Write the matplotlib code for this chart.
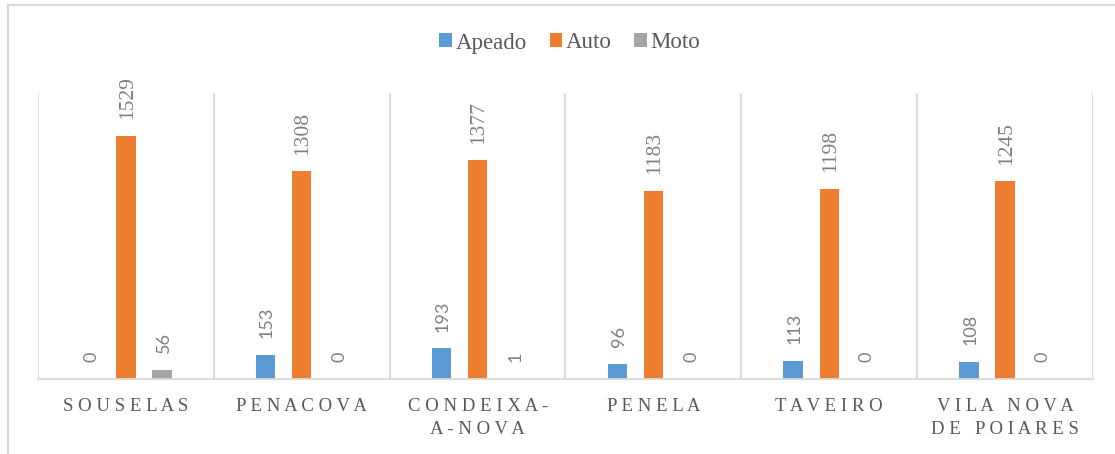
import matplotlib.pyplot as plt
import numpy as np
from matplotlib.patches import Patch
from matplotlib.lines import Line2D

categories = ["SOUSELAS", "PENACOVA", "CONDEIXA-\nA-NOVA", "PENELA", "TAVEIRO", "VILA NOVA\nDE POIARES"]
apeado = [0, 153, 193, 96, 113, 108]
auto = [1529, 1308, 1377, 1183, 1198, 1245]
moto = [56, 0, 1, 0, 0, 0]

series = [
    ("Apeado", apeado, "#5B9BD5", -0.206, "Lato", 13),
    ("Auto", auto, "#ED7D31", 0.0, "Liberation Serif", 15.5),
    ("Moto", moto, "#A5A5A5", 0.206, "Lato", 13),
]

GRID = "#D9D9D9"
TEXT = "#595959"
LABEL = "#808080"


def spaced(label: str) -> str:
    # fake the letter spacing of the original axis labels
    lines = []
    for line in label.split("\n"):
        words = [" ".join(word) for word in line.split(" ")]
        lines.append("   ".join(words))
    return "\n".join(lines)


fig = plt.figure(figsize=(11.15, 4.54), dpi=100)
ax = fig.add_axes([38 / 1115, 75 / 454, (1093 - 38) / 1115, (379 - 93) / 454])

x = np.arange(len(categories))
width = 0.11
for name, values, color, offset, font, size in series:
    bars = ax.bar(x + offset, values, width=width, color=color, label=name, zorder=3)
    for rect, val in zip(bars, values):
        ax.annotate(
            f"{val}",
            (rect.get_x() + rect.get_width() / 2, rect.get_height()),
            xytext=(1, 12),
            textcoords="offset points",
            rotation=90,
            ha="center",
            va="bottom",
            fontsize=size,
            color=LABEL,
            family=font,
            zorder=4,
        )

ax.set_xlim(-0.5, len(categories) - 0.5)
ax.set_ylim(0, 1800)

for b in np.arange(-0.5, len(categories), 1.0):
    ax.axvline(b, color=GRID, linewidth=1.3, zorder=1)

for side in ["top", "right", "left"]:
    ax.spines[side].set_visible(False)
ax.spines["bottom"].set_color(GRID)
ax.spines["bottom"].set_linewidth(1.3)
ax.spines["bottom"].set_zorder(5)

ax.set_yticks([])
ax.set_xticks(x)
ax.set_xticklabels([spaced(c) for c in categories], family="Liberation Serif",
                   fontsize=13.5, color=TEXT, linespacing=1.45)
ax.tick_params(axis="x", length=0, pad=14)

handles = [Patch(facecolor=c, edgecolor="none", label=n) for n, _, c, _, _, _ in series]
fig.legend(
    handles=handles,
    loc="center",
    bbox_to_anchor=(0.511, 1 - 43 / 454),
    ncol=3,
    frameon=False,
    handlelength=0.55,
    handleheight=0.55,
    handletextpad=0.15,
    columnspacing=1.0,
    prop={"family": "Liberation Serif", "size": 16.5},
    labelcolor=TEXT,
)

# chart-area border (only top and left visible in the original crop)
fig.add_artist(Line2D([8 / 1115, 1], [1 - 5 / 454, 1 - 5 / 454], color=GRID, linewidth=1.5,
                      transform=fig.transFigure))
fig.add_artist(Line2D([8 / 1115, 8 / 1115], [0, 1 - 5 / 454], color=GRID, linewidth=1.5,
                      transform=fig.transFigure))

fig.savefig("out.png", dpi=100)
plt.close(fig)
